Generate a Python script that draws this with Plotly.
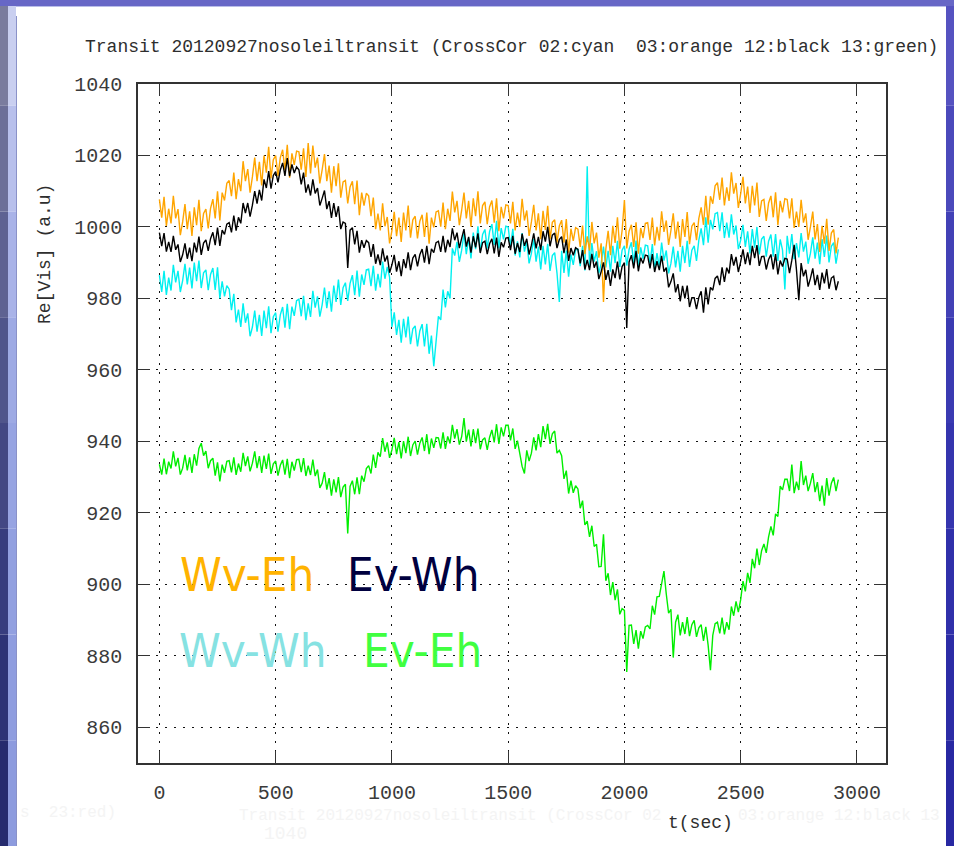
import plotly.graph_objects as go

# ---- sample times (s) and cross-correlation real parts (a.u.) ----
t_sec = list(range(0, 2921, 10))

cc02_cyan = [
    986.5, 981.8, 987.7, 981.0, 985.8, 982.2, 989.4, 984.5, 987.7, 981.8,
    985.0, 989.7, 983.9, 988.6, 982.8, 990.0, 984.8, 990.6, 982.9, 987.2,
    988.0, 982.3, 986.7, 988.5, 982.4, 988.7, 980.0, 984.8, 980.6, 983.6,
    982.6, 976.7, 981.3, 973.3, 976.9, 972.0, 978.6, 973.2, 975.8, 969.4,
    972.0, 976.6, 970.7, 975.4, 969.5, 976.6, 971.7, 977.8, 970.3, 974.9,
    976.0, 970.7, 975.4, 977.6, 971.8, 978.5, 971.4, 977.7, 975.1, 979.4,
    979.8, 975.0, 980.7, 973.9, 978.6, 974.8, 982.1, 977.4, 980.6, 974.9,
    978.2, 983.0, 977.3, 982.0, 976.3, 983.6, 979.0, 985.3, 978.2, 983.0,
    984.4, 979.3, 984.2, 986.5, 980.9, 987.8, 980.5, 986.7, 983.8, 988.0,
    988.2, 983.4, 989.1, 982.2, 986.9, 983.1, 990.3, 985.5, 988.8, 986.0,
    972.0, 976.1, 969.8, 974.0, 967.6, 974.3, 969.1, 974.9, 967.2, 971.5,
    972.3, 966.6, 970.9, 972.8, 966.6, 972.9, 964.5, 969.6, 961.0, 968.0,
    975.0, 974.0, 982.5, 977.5, 982.0, 980.0, 994.0, 992.0, 995.8, 990.2,
    993.5, 998.2, 992.4, 997.0, 991.2, 998.4, 993.8, 1000.2, 993.0, 997.9,
    999.3, 994.0, 998.7, 1000.8, 995.0, 1001.7, 994.0, 999.7, 996.5, 1000.2,
    1000.0, 994.5, 999.5, 992.0, 996.0, 991.5, 998.3, 993.1, 996.0, 989.8,
    992.6, 996.7, 990.3, 994.5, 988.1, 994.7, 989.5, 995.3, 987.7, 992.0,
    992.8, 987.1, 979.0, 993.3, 987.1, 993.4, 986.1, 992.3, 989.4, 993.6,
    993.8, 989.0, 994.7, 987.8, 1017.0, 988.7, 995.5, 990.3, 993.2, 987.0,
    989.8, 994.5, 988.7, 993.3, 987.5, 994.7, 989.9, 996.1, 988.8, 993.5,
    994.7, 989.2, 993.7, 995.7, 989.7, 996.2, 988.5, 994.3, 991.1, 994.9,
    994.7, 989.7, 995.2, 988.2, 992.7, 988.7, 995.6, 990.6, 993.4, 987.0,
    989.8, 994.5, 988.7, 993.3, 987.5, 994.7, 989.9, 996.1, 988.8, 993.5,
    994.7, 990.5, 996.3, 999.6, 994.9, 1002.7, 995.6, 1002.0, 999.3, 1003.7,
    1004.0, 998.8, 1004.1, 996.9, 1001.2, 997.0, 1003.5, 997.9, 1000.4, 993.8,
    996.3, 1000.6, 994.4, 998.8, 992.6, 999.4, 994.2, 1000.0, 992.3, 996.6,
    997.4, 991.7, 996.0, 997.9, 991.7, 998.0, 990.5, 996.5, 993.5, 982.5,
    997.5, 992.5, 998.0, 991.0, 995.5, 991.5, 998.3, 993.1, 995.9, 989.7,
    992.6, 997.1, 991.1, 995.6, 989.6, 996.6, 991.6, 997.6, 990.1, 994.6,
    995.6, 989.7, 993.7,
]

cc03_orange = [
    1007.7, 1002.6, 1008.4, 1000.3, 1005.1, 1001.0, 1008.7, 1002.4, 1005.0, 997.7,
    1001.4, 1006.4, 999.4, 1004.4, 997.5, 1005.5, 1000.5, 1007.6, 998.8, 1003.8,
    1005.0, 999.6, 1005.2, 1007.8, 1002.4, 1010.0, 1001.8, 1009.6, 1007.4, 1012.2,
    1013.0, 1008.6, 1015.2, 1007.8, 1013.4, 1010.0, 1018.4, 1012.8, 1016.2, 1009.6,
    1014.0, 1019.4, 1012.8, 1018.2, 1011.6, 1020.0, 1015.2, 1022.4, 1013.6, 1018.8,
    1020.0, 1014.2, 1019.4, 1021.6, 1015.8, 1023.0, 1013.8, 1020.6, 1017.4, 1021.2,
    1021.0, 1016.0, 1022.0, 1014.0, 1023.5, 1015.0, 1022.8, 1016.6, 1019.4, 1012.2,
    1016.0, 1020.4, 1012.8, 1017.2, 1009.6, 1017.0, 1011.4, 1017.8, 1008.2, 1012.6,
    1013.0, 1006.6, 1011.2, 1012.8, 1006.4, 1013.0, 1003.3, 1009.6, 1006.0, 1009.4,
    1008.7, 1003.0, 1008.2, 999.4, 1003.7, 999.0, 1006.6, 1000.2, 1002.8, 995.4,
    999.0, 1004.2, 997.4, 1002.6, 995.8, 1004.0, 999.0, 1006.0, 997.0, 1002.0,
    1003.0, 996.8, 1001.6, 1003.4, 997.2, 1004.0, 995.3, 1002.6, 999.9, 1004.2,
    1004.5, 1000.1, 1006.8, 999.4, 1005.1, 1001.7, 1009.9, 1004.1, 1007.3, 1000.5,
    1004.7, 1009.6, 1002.4, 1007.3, 1000.1, 1008.0, 1003.0, 1010.0, 1001.0, 1006.0,
    1007.0, 1000.8, 1005.6, 1007.4, 1001.2, 1008.0, 998.8, 1005.6, 1002.4, 1006.2,
    1006.0, 1001.0, 1007.0, 999.0, 1004.0, 1000.0, 1007.9, 1001.8, 1004.6, 997.5,
    1001.4, 1006.2, 999.0, 1003.8, 996.6, 1004.5, 999.2, 1005.9, 996.6, 1001.3,
    1002.0, 995.6, 1000.3, 1001.9, 995.6, 1002.2, 992.8, 999.5, 996.1, 999.8,
    999.4, 994.4, 1000.4, 992.4, 997.4, 993.4, 1001.4, 995.4, 998.4, 991.4,
    995.4, 979.0, 993.8, 998.9, 992.1, 1000.3, 995.5, 1002.7, 993.9, 999.0,
    1007.5, 994.0, 998.8, 1000.6, 994.4, 1001.3, 992.5, 999.7, 996.9, 1001.0,
    1001.2, 996.4, 1002.6, 994.8, 1000.0, 996.2, 1004.4, 998.6, 1001.8, 995.0,
    999.0, 1003.8, 996.7, 1001.5, 994.4, 1002.2, 997.2, 1004.2, 995.2, 1000.2,
    1001.2, 996.3, 1002.4, 1005.5, 1000.6, 1008.7, 1000.6, 1008.6, 1006.5, 1011.5,
    1012.4, 1007.6, 1013.8, 1006.0, 1011.1, 1007.3, 1015.3, 1009.3, 1012.3, 1005.3,
    1009.3, 1014.0, 1006.6, 1011.3, 1003.9, 1011.5, 1006.0, 1012.4, 1002.8, 1007.3,
    1007.7, 1001.7, 1006.7, 1008.7, 1002.7, 1009.7, 1000.5, 1007.3, 1004.1, 1007.9,
    1007.7, 1002.4, 1008.0, 999.7, 1004.3, 1000.0, 1007.6, 1001.2, 1003.8, 996.4,
    1000.0, 1004.3, 996.5, 1000.8, 993.0, 1000.3, 995.3, 1002.3, 993.3, 998.3,
    999.3, 992.6, 997.0,
]

cc12_black = [
    998.4, 994.6, 998.3, 993.1, 995.8, 993.0, 997.5, 993.6, 995.1, 990.2,
    992.2, 995.4, 991.1, 994.2, 990.4, 995.6, 992.9, 997.3, 992.2, 995.5,
    996.4, 993.3, 996.7, 998.5, 994.9, 999.8, 994.7, 999.1, 997.9, 1000.8,
    1001.2, 998.5, 1003.2, 999.0, 1002.7, 1001.0, 1006.7, 1003.9, 1006.7, 1002.9,
    1006.1, 1010.0, 1006.5, 1010.4, 1007.4, 1013.3, 1010.9, 1015.6, 1010.7, 1014.4,
    1015.5, 1012.5, 1015.9, 1017.9, 1014.3, 1019.3, 1014.2, 1017.5, 1015.1, 1016.8,
    1016.0, 1011.9, 1015.2, 1009.6, 1011.9, 1008.8, 1013.3, 1009.4, 1010.9, 1006.0,
    1008.0, 1010.2, 1005.0, 1007.2, 1002.5, 1006.7, 1002.8, 1005.8, 999.4, 1001.4,
    1001.0, 988.5, 999.1, 999.8, 995.1, 998.9, 992.8, 996.3, 994.2, 996.2,
    995.6, 991.6, 995.2, 989.7, 992.3, 989.3, 994.0, 990.3, 992.0, 987.2,
    989.4, 992.2, 987.5, 990.4, 986.2, 991.0, 988.5, 992.9, 987.9, 991.3,
    992.3, 989.0, 992.2, 993.8, 990.0, 994.7, 989.6, 993.9, 992.8, 995.6,
    996.0, 993.0, 997.5, 992.9, 996.4, 994.4, 999.6, 996.3, 998.4, 994.1,
    996.8, 999.4, 994.5, 997.2, 992.8, 997.4, 994.3, 998.2, 992.7, 995.6,
    996.0, 992.4, 995.3, 996.7, 992.6, 997.0, 991.6, 995.7, 994.3, 996.9,
    997.0, 993.5, 997.5, 992.5, 995.5, 993.0, 998.1, 994.7, 996.7, 992.3,
    994.9, 998.2, 994.0, 997.2, 993.5, 998.8, 995.9, 1000.0, 994.6, 997.7,
    998.3, 994.1, 996.5, 997.3, 992.7, 996.5, 990.5, 994.1, 992.1, 994.2,
    993.7, 989.8, 993.5, 988.1, 990.8, 987.9, 992.5, 988.6, 990.3, 985.4,
    987.5, 990.1, 985.2, 987.9, 983.5, 988.1, 985.7, 990.3, 985.3, 988.9,
    990.0, 971.7, 990.2, 992.1, 988.4, 993.3, 987.6, 991.4, 989.8, 992.1,
    991.9, 988.4, 992.4, 987.4, 990.4, 987.9, 991.9, 987.5, 988.6, 983.1,
    984.7, 987.0, 981.7, 984.0, 979.2, 983.5, 980.0, 983.6, 977.6, 980.2,
    980.2, 977.0, 980.3, 982.0, 976.0, 983.1, 978.3, 983.1, 982.3, 985.6,
    986.3, 983.7, 988.7, 984.6, 988.6, 987.0, 992.4, 989.2, 991.6, 987.4,
    990.3, 993.7, 989.6, 992.9, 989.3, 994.7, 991.3, 994.9, 989.1, 991.7,
    991.8, 988.1, 990.9, 992.3, 988.1, 992.4, 986.7, 990.6, 988.9, 991.2,
    991.0, 987.1, 990.7, 995.0, 988.0, 979.5, 989.9, 986.2, 988.0, 983.3,
    985.6, 988.4, 983.7, 986.6, 982.4, 987.2, 984.2, 988.2, 982.7, 985.7,
    986.2, 982.3, 984.8,
]

cc13_green = [
    933.6, 930.7, 935.2, 930.8, 934.3, 932.4, 937.2, 933.0, 935.4, 930.7,
    932.5, 936.2, 931.9, 935.5, 931.2, 936.4, 933.2, 938.0, 939.5, 936.0,
    937.3, 932.5, 934.6, 935.3, 930.4, 934.1, 928.8, 933.5, 931.2, 934.4,
    934.6, 931.3, 935.5, 930.6, 933.8, 931.5, 936.8, 933.1, 935.8, 931.6,
    933.9, 937.2, 932.5, 935.9, 931.2, 936.0, 932.3, 936.6, 930.9, 933.7,
    934.5, 930.4, 933.3, 934.8, 930.7, 935.1, 929.7, 934.3, 931.8, 934.9,
    935.0, 931.4, 935.3, 930.3, 933.2, 930.6, 934.9, 930.3, 932.1, 927.0,
    928.3, 931.4, 926.5, 929.7, 924.8, 929.4, 925.7, 930.0, 924.4, 927.2,
    928.0, 914.2, 927.4, 929.0, 925.2, 929.9, 925.2, 930.4, 928.7, 932.4,
    933.2, 931.0, 936.3, 932.6, 936.9, 935.7, 940.9, 937.1, 939.7, 935.4,
    937.6, 941.0, 936.4, 939.8, 935.2, 940.1, 936.7, 941.3, 935.9, 939.0,
    940.1, 936.3, 939.5, 941.1, 937.3, 942.0, 936.4, 940.8, 938.2, 941.1,
    941.0, 938.0, 942.5, 937.9, 941.4, 939.4, 944.6, 940.8, 943.4, 939.1,
    941.3, 946.5, 939.9, 943.3, 938.6, 943.4, 939.5, 943.6, 937.8, 940.4,
    941.0, 937.6, 941.1, 943.2, 939.7, 944.8, 939.3, 943.9, 941.4, 944.5,
    944.5, 940.3, 943.6, 937.9, 940.2, 937.0, 933.0, 931.0, 937.5, 934.5,
    936.7, 941.1, 937.5, 942.0, 938.4, 944.3, 940.6, 944.9, 939.3, 942.1,
    942.9, 936.7, 937.5, 936.0, 929.5, 931.8, 925.4, 929.0, 925.6, 927.6,
    926.7, 921.3, 923.4, 916.6, 917.7, 913.3, 916.4, 910.6, 911.2, 904.9,
    905.0, 914.0, 901.0, 903.1, 897.0, 900.6, 895.6, 898.6, 891.6, 893.2,
    892.7, 875.5, 888.5, 888.6, 883.3, 887.2, 882.0, 886.9, 884.8, 888.1,
    888.5, 887.5, 894.0, 891.5, 896.5, 896.6, 900.7, 903.7, 897.3, 891.9,
    893.0, 879.5, 889.4, 891.5, 885.7, 889.4, 886.1, 890.8, 885.5, 888.7,
    889.9, 885.3, 887.8, 888.7, 884.2, 888.1, 883.0, 876.0, 885.7, 889.0,
    889.4, 886.3, 890.7, 886.0, 889.4, 887.3, 893.8, 891.2, 895.2, 892.2,
    895.7, 900.9, 898.0, 903.2, 900.4, 907.1, 904.5, 910.0, 905.4, 909.4,
    911.3, 908.8, 913.3, 916.2, 913.7, 919.7, 919.0, 927.5, 926.4, 929.4,
    929.4, 926.1, 933.5, 925.5, 928.7, 926.4, 934.5, 927.8, 930.4, 926.1,
    928.3, 931.1, 925.8, 928.6, 923.3, 927.6, 922.0, 929.7, 924.8, 928.3,
    929.9, 926.1, 929.3,
]

x_ticks = [0, 500, 1000, 1500, 2000, 2500, 3000]
y_ticks = [860, 880, 900, 920, 940, 960, 980, 1000, 1020, 1040]

legend_labels = ["Wv-Eh", "Ev-Wh", "Wv-Wh", "Ev-Eh"]

# ---- page geometry (pixels) ----
W, H = 954, 846
ML, MR, MT, MB = 138, 68, 84, 83
PW, PH = W - ML - MR, H - MT - MB


def px(x):
    return (x - ML) / PW


def py(y):
    return (H - MB - y) / PH


MONO = "Liberation Mono, Courier New, monospace"
INK = "#2e2e2e"

fig = go.Figure()
series = [
    (cc02_cyan, "#00f0f0"),
    (cc03_orange, "#ffa500"),
    (cc12_black, "#000000"),
    (cc13_green, "#00ee00"),
]
for ys, col in series:
    fig.add_trace(go.Scatter(
        x=t_sec, y=ys, mode="lines",
        line=dict(color=col, width=1.4),
        showlegend=False, hoverinfo="skip",
    ))

axis_common = dict(
    showgrid=True, gridcolor="#111111", gridwidth=1, griddash="2px,7px",
    zeroline=False, showline=True, linecolor="#333333", linewidth=1.5,
    mirror="ticks", ticks="inside", ticklen=12, tickcolor="#333333",
    tickwidth=1.2, tickfont=dict(family=MONO, size=20, color="#3a3a3a"),
    ticklabelstandoff=10,
)

fig.update_layout(
    width=W, height=H,
    margin=dict(l=ML, r=MR, t=MT, b=MB),
    paper_bgcolor="white", plot_bgcolor="white",
    xaxis=dict(range=[-92, 3125], tickvals=x_ticks, **axis_common),
    yaxis=dict(range=[850, 1040], tickvals=y_ticks, **axis_common),
)

ann = []
# faint residual text along the bottom of the page (drawn first, underneath)
GHOST = "#f4f4f4"
ann.append(dict(
    text="Transit 20120927nosoleiltransit (CrossCor 02",
    x=px(237), y=py(816), xanchor="left", yanchor="middle",
    font=dict(family=MONO, size=16, color=GHOST),
))
ann.append(dict(
    text="03:orange 12:black 13",
    x=px(736), y=py(816), xanchor="left", yanchor="middle",
    font=dict(family=MONO, size=16, color=GHOST),
))
ann.append(dict(
    text="1040", x=px(262), y=py(834), xanchor="left", yanchor="middle",
    font=dict(family=MONO, size=18, color=GHOST),
))
ann.append(dict(
    text="s  23:red)", x=px(18), y=py(813), xanchor="left", yanchor="middle",
    font=dict(family=MONO, size=16, color=GHOST),
))

# title line and axis titles
ann.append(dict(
    text="Transit 20120927nosoleiltransit (CrossCor 02:cyan  03:orange 12:black 13:green)",
    x=px(83), y=py(47), xanchor="left", yanchor="middle",
    font=dict(family=MONO, size=18, color=INK),
))
ann.append(dict(
    text="Re[Vis] (a.u)", textangle=-90,
    x=px(45), y=py(254), xanchor="center", yanchor="middle",
    font=dict(family=MONO, size=18, color=INK),
))
ann.append(dict(
    text="t(sec)", x=px(700), y=py(823), xanchor="center", yanchor="middle",
    font=dict(family=MONO, size=18, color=INK),
))

# labels naming each correlation pair
LEG = "DejaVu Sans Condensed, DejaVu Sans, sans-serif"
leg_pos = [(178, 574, "#ffb300"), (345, 574, "#00003f"),
           (177, 650, "#86e2e2"), (361, 650, "#40ff40")]
for lab, (lx, ly, lc) in zip(legend_labels, leg_pos):
    ann.append(dict(
        text=lab, x=px(lx), y=py(ly), xanchor="left", yanchor="middle",
        font=dict(family=LEG, size=47, color=lc),
    ))

for a in ann:
    a.update(xref="paper", yref="paper", showarrow=False)
fig.update_layout(annotations=ann)

# ---- page frame around the white panel ----
shapes = []


def rect(x0, y0, x1, y1, color):
    shapes.append(dict(
        type="rect", xref="paper", yref="paper",
        x0=px(x0), x1=px(x1), y0=py(y1), y1=py(y0),
        fillcolor=color, line=dict(width=0), layer="above",
    ))


left_cols = ["#7a7c9e", "#6c6f98", "#5e6292", "#50558b", "#434884",
             "#373d7e", "#2d3376", "#262b6e"]
right_cols = ["#5552c0", "#4b49bb", "#4241b6", "#3a3ab2", "#3535ae",
              "#3030aa", "#2c2ca6", "#2828a2"]
stripe_cols = ["#c9cff0", "#b8c0ec", "#a9b3e8", "#9eaae4", "#97a4e2",
               "#92a0e0", "#8f9ddf", "#8d9bde"]
nseg = len(left_cols)
seg = H / nseg
for i in range(nseg):
    y0, y1 = i * seg, (i + 1) * seg
    rect(0, y0, 8, y1, left_cols[i])
    rect(8, y0, 16, y1, stripe_cols[i])
    rect(946, y0, W, y1, right_cols[i])
rect(16, 16, 17, H, "#8a92c8")
rect(0, 0, W, 6, "#6767c6")
rect(16, 6, 946, 7, "#b9bde8")

fig.update_layout(shapes=shapes)

fig.write_html("out.html")
